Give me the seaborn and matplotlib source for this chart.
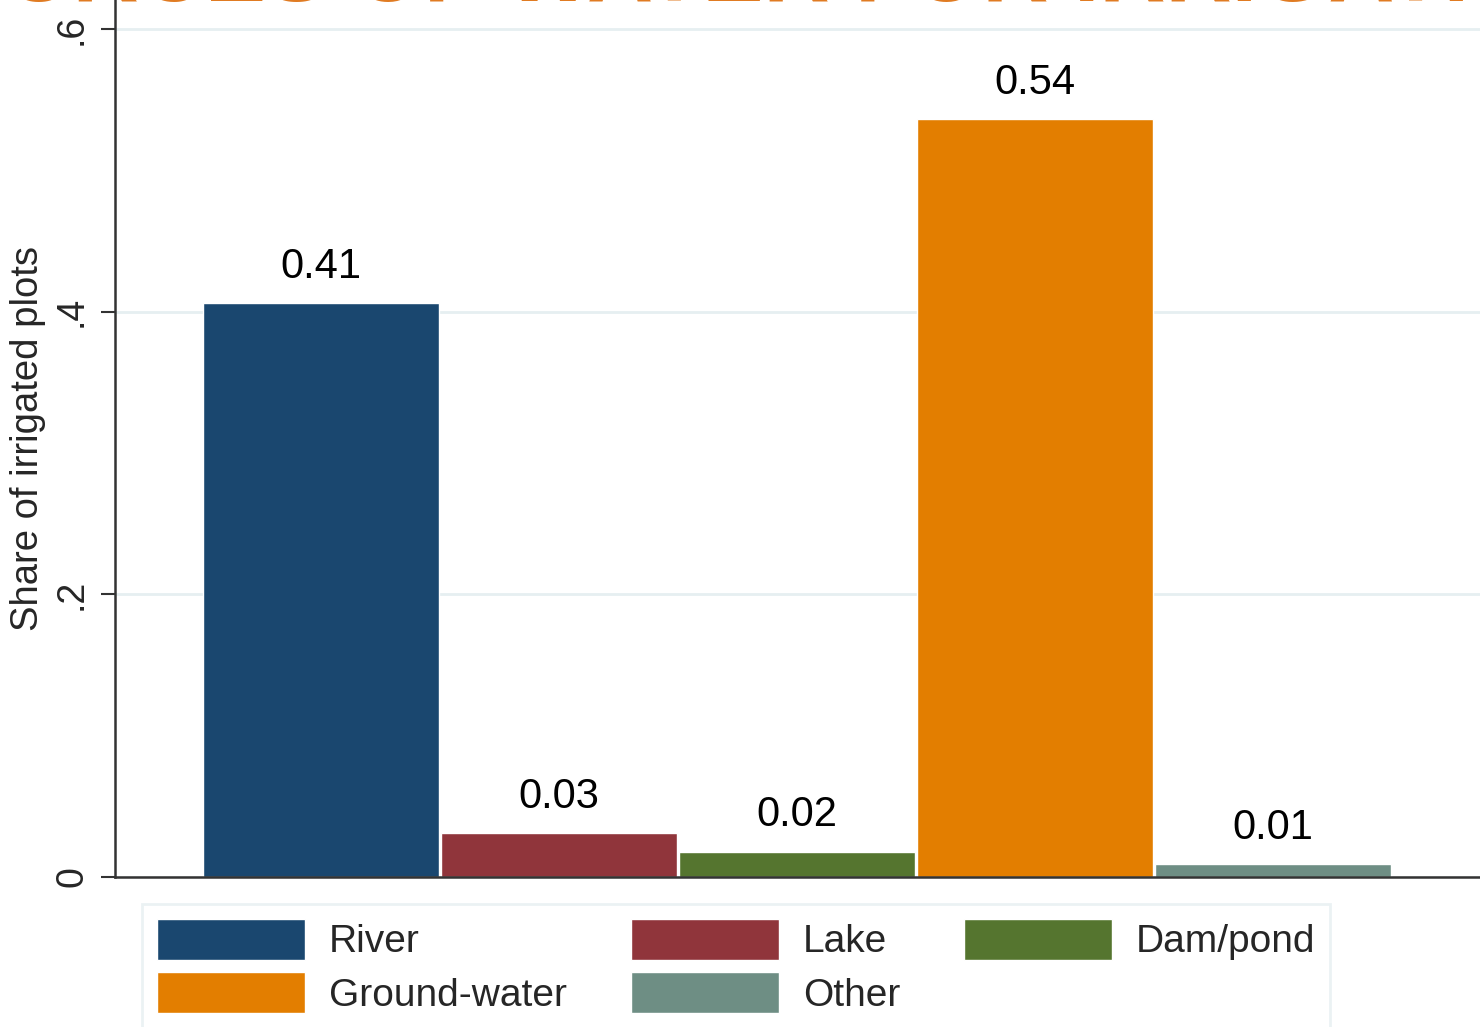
import matplotlib
matplotlib.use("Agg")
import matplotlib.pyplot as plt
import matplotlib.patches as mpatches
import pandas as pd
import seaborn as sns

sources = ["River", "Lake", "Dam/pond", "Ground-water", "Other"]
shares = [0.406, 0.031, 0.018, 0.536, 0.009]
colors = ["#1a476f", "#90353b", "#55752f", "#e37e00", "#6e8e84"]
y_ticks = [0, 0.2, 0.4, 0.6]
y_tick_labels = ["0", ".2", ".4", ".6"]
title_text = "SOURCES OF WATER FOR IRRIGATION"

df = pd.DataFrame({"source": sources, "share": shares})

sns.set_style("white")
plt.rcParams["font.family"] = ["Liberation Sans", "DejaVu Sans"]

fig = plt.figure(figsize=(14.8, 10.27), dpi=100)
ax = fig.add_axes([115 / 1480, 1 - 877 / 1027, 1 - 115 / 1480, 877 / 1027])

sns.barplot(data=df, x="source", y="share", hue="source", palette=colors,
            dodge=False, legend=False, width=0.99, saturation=1, ax=ax)

for c in ax.containers:
    ax.bar_label(c, fmt="%.2f", padding=12, fontsize=30, color="black")

ax.set_xlim(-0.864, 4.868)
ax.set_ylim(0, 0.6205)
ax.set_yticks(y_ticks)
ax.set_yticklabels(y_tick_labels, rotation=90, va="center", fontsize=27)
ax.tick_params(axis="y", length=10, width=1.5, color="#333333", pad=8, left=True)
ax.tick_params(axis="x", bottom=False, labelbottom=False)
ax.set_xlabel("")
ax.set_ylabel("Share of irrigated plots", fontsize=27.5, labelpad=6)
ax.yaxis.grid(True, color="#e6eff1", linewidth=2)
ax.set_axisbelow(True)
for s in ["top", "right"]:
    ax.spines[s].set_visible(False)
for s in ["left", "bottom"]:
    ax.spines[s].set_color("#333333")
    ax.spines[s].set_linewidth(1.8)

# legend order: column-wise fill gives River/Lake/Dam on first row
order = [0, 3, 1, 4, 2]
handles = [mpatches.Patch(facecolor=colors[i], label=sources[i]) for i in order]
leg = fig.legend(handles=handles, ncol=3, loc="upper left",
                 bbox_to_anchor=(142 / 1480, 1 - 904 / 1027), borderaxespad=0,
                 fontsize=28, frameon=True, fancybox=False,
                 handlelength=3.8, handleheight=1.25, handletextpad=0.62,
                 columnspacing=1.65, labelspacing=0.3, borderpad=0.38)
leg.get_frame().set_edgecolor("#e6eff1")
leg.get_frame().set_linewidth(2)

fig.text(0.5, 1 - 1 / 1027, title_text, ha="center", va="baseline",
         fontsize=66, fontweight="bold", color="#e07b22")

fig.savefig("out.png", dpi=100)
